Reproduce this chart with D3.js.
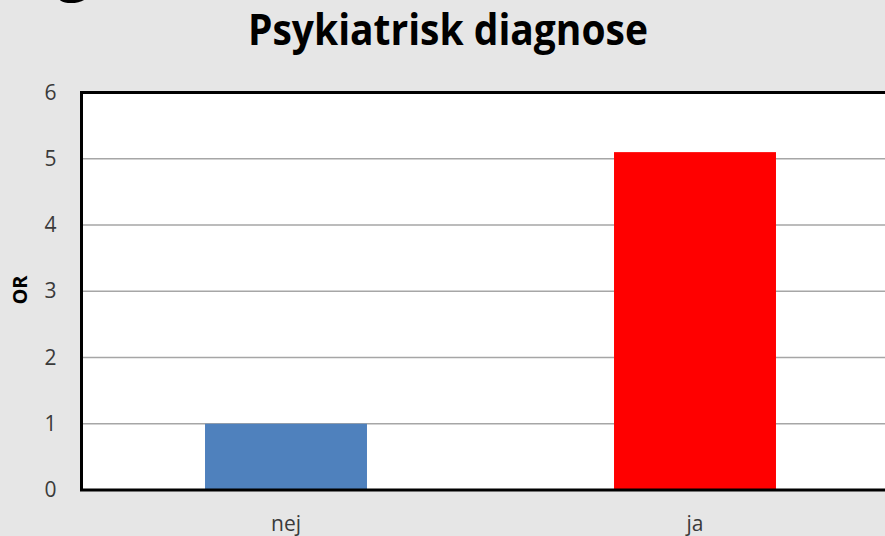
<!DOCTYPE html>
<html>
<head>
<meta charset="utf-8">
<script src="https://cdn.jsdelivr.net/npm/d3@7"></script>
<style>
html,body{margin:0;padding:0;background:#e6e6e6;overflow:hidden;}
svg{display:block;}
</style>
</head>
<body>
<script>
const categories = ["nej", "ja"];
const values = [1, 5.1];
const colors = ["#4f81bd", "#ff0000"];
const yTicks = [0, 1, 2, 3, 4, 5, 6];
const title = "Psykiatrisk diagnose";
const yLabel = "OR";

(function () {
const W = 885, H = 536;
const svg = d3.select("body").append("svg").attr("width", W).attr("height", H);
svg.append("rect").attr("width", W).attr("height", H).attr("fill", "#e6e6e6");

const pl = 81.5, pr = 899.5, pt = 92.5, pb = 490;
const x = d3.scaleBand().domain(categories).range([pl, pr]).paddingInner(0.604).paddingOuter(0.302);
const y = d3.scaleLinear().domain([0, 6]).range([pb, pt]);

// cut-off slide heading fragment
svg.append("text").attr("x", 57).attr("y", -11)
  .attr("font-family", "Open Sans").attr("font-weight", "bold").attr("font-size", 58)
  .attr("fill", "#000").text("g");

// plot area
svg.append("rect").attr("x", pl).attr("y", pt).attr("width", pr - pl).attr("height", pb - pt).attr("fill", "#fff");

// gridlines
svg.append("g").selectAll("line").data(yTicks.filter(d => d > 0 && d < 6)).join("line")
  .attr("x1", pl).attr("x2", pr)
  .attr("y1", d => y(d)).attr("y2", d => y(d))
  .attr("stroke", "#a6a6a6").attr("stroke-width", 1.3);

// bars
svg.append("g").selectAll("rect").data(categories).join("rect")
  .attr("x", d => x(d)).attr("width", x.bandwidth())
  .attr("y", (d, i) => y(values[i])).attr("height", (d, i) => y(0) - y(values[i]))
  .attr("fill", (d, i) => colors[i]);

// frame (left, top, bottom)
svg.append("path")
  .attr("d", `M${pr},${pt}H${pl}V${pb}H${pr}`)
  .attr("fill", "none").attr("stroke", "#000").attr("stroke-width", 3);

// y axis labels
const yAxis = d3.axisLeft(y).tickValues(yTicks).tickSize(0).tickPadding(25).tickFormat(d3.format("d"));
const ga = svg.append("g").attr("transform", `translate(${pl},0)`).call(yAxis);
ga.select(".domain").remove();
ga.selectAll("text").attr("font-family", "Open Sans").attr("font-size", 21).attr("fill", "#3a3a3a");

// x axis labels
const xAxis = d3.axisBottom(x).tickSize(0).tickPadding(26);
const gx = svg.append("g").attr("transform", `translate(0,${pb})`).call(xAxis);
gx.select(".domain").remove();
gx.selectAll("text").attr("font-family", "Open Sans").attr("font-size", 21).attr("fill", "#3a3a3a");

// y label
svg.append("text").attr("transform", "translate(27,290) rotate(-90)")
  .attr("text-anchor", "middle").attr("font-family", "Open Sans").attr("font-weight", "bold")
  .attr("font-size", 20).attr("fill", "#000").text(yLabel);

// title
svg.append("text").attr("x", 448).attr("y", 45).attr("text-anchor", "middle")
  .attr("font-family", "Open Sans").attr("font-weight", "bold").attr("font-size", 43)
  .attr("textLength", 400).attr("lengthAdjust", "spacingAndGlyphs")
  .attr("fill", "#000").text(title);
})();
</script>
</body>
</html>
